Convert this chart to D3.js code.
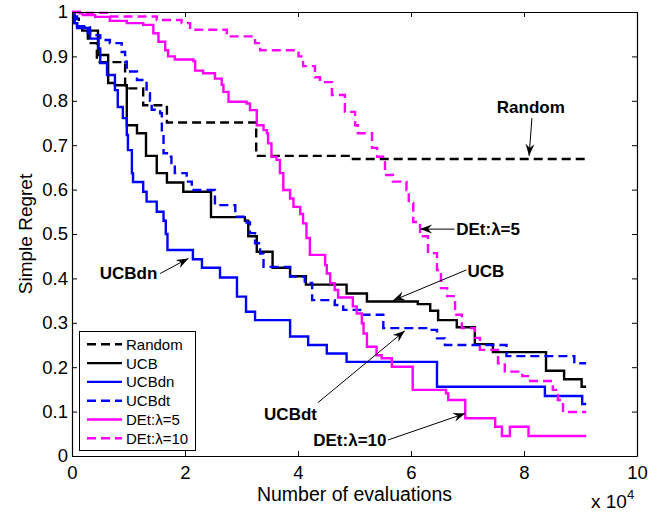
<!DOCTYPE html>
<html>
<head>
<meta charset="utf-8">
<script src="https://cdn.jsdelivr.net/npm/d3@7"></script>
<style>
  body { margin: 0; background: #fff; }
  svg { display: block; font-family: "Liberation Sans", Arial, Helvetica, sans-serif; }
</style>
</head>
<body>
<div id="chart"></div>
<script>
// ---------------- DATA ----------------
const xTicks = [0, 20000, 40000, 60000, 80000, 100000];
const yTicks = [0, 0.1, 0.2, 0.3, 0.4, 0.5, 0.6, 0.7, 0.8, 0.9, 1];

const randomX = [0,1200,2800,4400,9400,12600,16800,32600,49200,91000];
const randomY = [0.985,0.965,0.93,0.887,0.828,0.79,0.751,0.676,0.669,0.669];

const ucbX = [0,400,900,1800,4600,6400,7600,9700,11500,13100,15000,16800,19700,24600,30600,31200,32700,35500,38600,41400,48600,52200,61200,63400,64800,68100,71300,74500,83900,87100,90200,91000];
const ucbY = [0.986,0.975,0.968,0.958,0.903,0.84,0.835,0.745,0.727,0.676,0.637,0.616,0.595,0.538,0.53,0.495,0.46,0.424,0.405,0.386,0.366,0.348,0.342,0.327,0.306,0.29,0.252,0.234,0.192,0.173,0.156,0.156];

const ucbdnX = [0,500,900,2800,3200,4700,5000,6200,7600,8100,9000,9700,9900,10600,10800,12600,13200,15000,16200,16600,16900,21400,23000,26200,29200,30800,32400,38600,41800,45100,48600,64600,83700,90300,91000];
const ucbdnY = [0.995,0.975,0.964,0.953,0.94,0.918,0.885,0.858,0.824,0.786,0.761,0.723,0.689,0.637,0.617,0.595,0.573,0.55,0.53,0.50,0.464,0.443,0.424,0.402,0.359,0.325,0.306,0.269,0.25,0.231,0.212,0.156,0.135,0.117,0.117];

const ucbdtX = [0,900,3200,5000,6700,8800,9400,9700,11500,12900,13200,13800,14100,15600,15900,16200,16800,17600,18200,20300,21200,25300,28900,30900,31500,32400,33300,33900,38600,41200,42500,46500,48000,51000,55100,63400,64600,66000,76900,88900,91000];
const ucbdtY = [0.99,0.968,0.948,0.937,0.93,0.91,0.888,0.866,0.847,0.84,0.817,0.80,0.78,0.772,0.727,0.682,0.674,0.66,0.637,0.618,0.599,0.565,0.539,0.526,0.502,0.479,0.456,0.426,0.404,0.39,0.351,0.34,0.329,0.318,0.288,0.284,0.265,0.25,0.225,0.209,0.209];

const det5X = [0,1400,1900,4100,6700,9700,12600,14400,15300,16500,17000,18200,21500,21800,23200,25300,26500,26800,27700,30900,31500,32700,33900,34500,34700,35300,36200,36800,37400,38600,39200,40400,40900,41500,42100,44800,45100,45700,46500,47100,49700,50400,51300,51600,52200,53900,54800,56600,60300,66200,66600,69600,74900,76100,77500,80800,91000];
const det5Y = [1.0,0.997,0.993,0.989,0.98,0.975,0.971,0.952,0.933,0.914,0.90,0.893,0.889,0.868,0.862,0.85,0.836,0.82,0.798,0.794,0.779,0.745,0.734,0.727,0.704,0.674,0.667,0.637,0.599,0.58,0.561,0.545,0.524,0.491,0.453,0.43,0.411,0.389,0.374,0.357,0.337,0.321,0.299,0.276,0.246,0.227,0.22,0.201,0.149,0.141,0.126,0.085,0.066,0.045,0.066,0.045,0.045];

const det10X = [0,2300,6700,15000,19400,20900,27400,32400,33300,40100,40900,43000,43900,46000,48300,50100,50600,53100,54000,55400,56800,59200,59600,60400,61600,63000,64600,65300,66400,67800,69000,71300,72200,75400,76600,79700,80700,85100,86000,86900,91000];
const det10Y = [1.0,0.998,0.99,0.982,0.975,0.96,0.945,0.93,0.914,0.90,0.878,0.853,0.842,0.813,0.775,0.745,0.727,0.694,0.674,0.633,0.618,0.599,0.57,0.527,0.495,0.457,0.419,0.378,0.36,0.318,0.288,0.266,0.239,0.209,0.19,0.18,0.169,0.149,0.126,0.099,0.099];

const seriesNames = ["Random", "UCB", "UCBdn", "UCBdt", "DEt:\u03bb=5", "DEt:\u03bb=10"];

// annotation labels: text anchor in data units, arrow start/tip in data units
const annotations = [
  { text: "Random",        tx: 81200, ty: 0.772, anchor: "middle", from: [81400, 0.761], to: [80900, 0.676] },
  { text: "DEt:\u03bb=5",  tx: 68000, ty: 0.498, anchor: "start",  from: [67700, 0.511], to: [61600, 0.511] },
  { text: "UCB",           tx: 70000, ty: 0.404, anchor: "start",  from: [69800, 0.419], to: [56800, 0.350] },
  { text: "UCBdn",         tx: 4900,  ty: 0.398, anchor: "start",  from: [15600, 0.411], to: [20600, 0.445] },
  { text: "UCBdt",         tx: 34000, ty: 0.081, anchor: "start",  from: [43500, 0.120], to: [58900, 0.282] },
  { text: "DEt:\u03bb=10", tx: 42700, ty: 0.023, anchor: "start",  from: [55900, 0.036], to: [69600, 0.096] }
];

// ---------------- LAYOUT ----------------
const W = 670, H = 514;
const L = 72, R = 637, T = 12, B = 456;

const svg = d3.select("#chart").append("svg").attr("width", W).attr("height", H);

const x = d3.scaleLinear().domain([0, 100000]).range([L, R]);
const y = d3.scaleLinear().domain([0, 1]).range([B, T]);

const styles = [
  { color: "#000000", dash: "9,5" },
  { color: "#000000", dash: null },
  { color: "#0000ff", dash: null },
  { color: "#0000ff", dash: "9,5" },
  { color: "#ff00ff", dash: null },
  { color: "#ff00ff", dash: "9,5" }
];

const allX = [randomX, ucbX, ucbdnX, ucbdtX, det5X, det10X];
const allY = [randomY, ucbY, ucbdnY, ucbdtY, det5Y, det10Y];

const line = d3.line().curve(d3.curveStepAfter).x(d => x(d[0])).y(d => y(d[1]));

const gLines = svg.append("g");
allX.forEach((xs, i) => {
  const pts = xs.map((v, j) => [v, allY[i][j]]);
  gLines.append("path")
    .attr("d", line(pts))
    .attr("fill", "none")
    .attr("stroke", styles[i].color)
    .attr("stroke-width", 2.4)
    .attr("stroke-dasharray", styles[i].dash)
    .attr("stroke-linejoin", "miter");
});

// ---------------- AXES ----------------
const fmtY = d => (d === 0 ? "0" : d === 1 ? "1" : d3.format(".1f")(d));
const fmtX = d => String(d / 10000);

function styleAxis(g) {
  g.selectAll("path.domain").attr("stroke", "#000").attr("stroke-width", 1.2);
  g.selectAll(".tick line").attr("stroke", "#000").attr("stroke-width", 1);
  g.selectAll(".tick text").attr("fill", "#000").style("font-size", "18.5px")
    .style("font-family", '"Liberation Sans", Arial, Helvetica, sans-serif');
}

svg.append("g").attr("transform", `translate(0,${B})`)
  .call(d3.axisBottom(x).tickValues(xTicks).tickFormat(fmtX).tickSizeInner(-5).tickSizeOuter(0).tickPadding(10))
  .call(styleAxis);
svg.append("g").attr("transform", `translate(0,${T})`)
  .call(d3.axisTop(x).tickValues(xTicks).tickFormat("").tickSizeInner(-5).tickSizeOuter(0))
  .call(styleAxis);
svg.append("g").attr("transform", `translate(${L},0)`)
  .call(d3.axisLeft(y).tickValues(yTicks).tickFormat(fmtY).tickSizeInner(-5).tickSizeOuter(0).tickPadding(4))
  .call(styleAxis);
svg.append("g").attr("transform", `translate(${R},0)`)
  .call(d3.axisRight(y).tickValues(yTicks).tickFormat("").tickSizeInner(-5).tickSizeOuter(0))
  .call(styleAxis);

// axis labels
svg.append("text").attr("x", (L + R) / 2).attr("y", 501).attr("text-anchor", "middle")
  .style("font-size", "19.5px").text("Number of evaluations");
svg.append("text").attr("transform", `translate(32,${(T + B) / 2}) rotate(-90)`).attr("text-anchor", "middle")
  .style("font-size", "19px").text("Simple Regret");
const mult = svg.append("text").attr("x", 591).attr("y", 508).style("font-size", "19px");
mult.append("tspan").text("x 10");
mult.append("tspan").attr("dy", -9).style("font-size", "13px").text("4");

// ---------------- ANNOTATIONS ----------------
function arrow(x1, y1, x2, y2) {
  svg.append("line").attr("x1", x1).attr("y1", y1).attr("x2", x2).attr("y2", y2)
    .attr("stroke", "#000").attr("stroke-width", 1);
  const a = Math.atan2(y2 - y1, x2 - x1);
  const len = 12, hw = 4.5, notch = 8;
  const px = (d, w) => [x2 - d * Math.cos(a) - w * Math.sin(a), y2 - d * Math.sin(a) + w * Math.cos(a)];
  const p1 = px(len, hw), p2 = px(notch, 0), p3 = px(len, -hw);
  svg.append("path")
    .attr("d", `M${x2},${y2}L${p1[0]},${p1[1]}L${p2[0]},${p2[1]}L${p3[0]},${p3[1]}Z`)
    .attr("fill", "#000");
}

annotations.forEach(an => {
  svg.append("text").attr("x", x(an.tx)).attr("y", y(an.ty)).attr("text-anchor", an.anchor)
    .style("font-size", "17px").style("font-weight", "bold").text(an.text);
  arrow(x(an.from[0]), y(an.from[1]), x(an.to[0]), y(an.to[1]));
});

// ---------------- LEGEND ----------------
const lg = svg.append("g");
lg.append("rect").attr("x", 79.5).attr("y", 331.5).attr("width", 116).attr("height", 119)
  .attr("fill", "#fff").attr("stroke", "#000").attr("stroke-width", 1);
seriesNames.forEach((name, i) => {
  const cy = 344.3 + i * 18.8;
  lg.append("line").attr("x1", 87).attr("x2", 122).attr("y1", cy).attr("y2", cy)
    .attr("stroke", styles[i].color).attr("stroke-width", 2.4).attr("stroke-dasharray", styles[i].dash);
  lg.append("text").attr("x", 126).attr("y", cy).attr("dy", "0.36em")
    .style("font-size", "15px").text(name);
});
</script>
</body>
</html>
